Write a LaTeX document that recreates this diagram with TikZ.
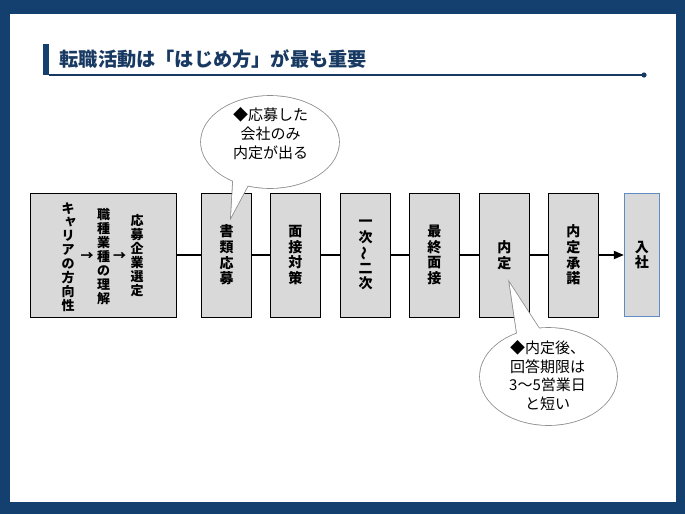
\documentclass[tikz,border=0pt]{standalone}
\usepackage{fontspec}
\usepackage{graphicx}
\usetikzlibrary{arrows.meta}
\newfontfamily\jp{Noto Sans CJK JP}
\definecolor{frameblue}{RGB}{19,64,110}
\definecolor{titleblue}{RGB}{24,58,98}
\definecolor{boxgray}{RGB}{217,217,217}
\definecolor{inblue}{RGB}{96,140,196}
\definecolor{callgray}{RGB}{140,140,140}
\tikzset{
  stepbox/.style={draw=black, line width=0.8pt, fill=boxgray, minimum width=50pt,
    minimum height=124pt, inner sep=0pt, align=center,
    font=\jp\bfseries\fontsize{14}{15.6}\selectfont},
  coltext/.style={inner sep=0pt, align=center, font=\jp\bfseries\fontsize{13}{13.9}\selectfont},
  conn/.style={line width=1.8pt, black},
  callstroke/.style={draw=callgray, line width=1.6pt},
  calltext/.style={inner sep=0pt, align=center, font=\jp\fontsize{15}{18.6}\selectfont},
}
\begin{document}
\begin{tikzpicture}[x=1pt,y=-1pt]
\useasboundingbox (0,0) rectangle (685,514);
% frame
\fill[frameblue] (0,0) rectangle (685,514);
\fill[white] (10,14) rectangle (676,502);
% title
\fill[frameblue] (43,44) rectangle (48.5,75);
\node[anchor=west, inner sep=0pt, text=titleblue, font=\jp\bfseries\fontsize{19.2}{19.2}\selectfont]
  (title) at (59.5,59) {転職活動は「はじめ方」が最も重要};
\coordinate (ul0) at (49,75);
\coordinate (ul1) at (644,75);
\draw[titleblue, line width=1.4pt] (ul0) -- (ul1);
\fill[titleblue] (ul1) circle (2.6pt);
% boxes
\node[stepbox, minimum width=146pt] (b1) at (103.7,255) {};
\node[stepbox] (b2) at (226.7,255) {書\\類\\応\\募};
\node[stepbox] (b3) at (295.3,255) {面\\接\\対\\策};
\node[stepbox] (b4) at (365.7,255) {一\\次\\\rotatebox[origin=c]{90}{～}\\二\\次};
\node[stepbox] (b5) at (434.3,255) {最\\終\\面\\接};
\node[stepbox] (b6) at (504.3,255) {\raisebox{-3pt}{内}\\\raisebox{-3pt}{定}};
\node[stepbox] (b7) at (573.3,255) {内\\定\\承\\諾};
\node[stepbox, draw=inblue, minimum width=35pt, minimum height=123pt] (b8) at (641.8,255) {\raisebox{-5pt}{入}\\\raisebox{-5pt}{社}};
% box 1 contents
\node[coltext] (k1) at (68,257) {キ\\\makebox[1em][l]{\hspace{0.2em}\raisebox{0.08em}{ャ}}\\リ\\ア\\の\\方\\向\\性};
\node[coltext] (a1) at (87,256) {→};
\node[coltext] (k2) at (103.5,256.5) {職\\種\\業\\種\\の\\理\\解};
\node[coltext] (a2) at (119.5,256) {→};
\node[coltext] (k3) at (137,255.5) {応\\募\\企\\業\\選\\定};
% connectors
\draw[conn] (b1) -- (b2);
\draw[conn] (b2) -- (b3);
\draw[conn] (b3) -- (b4);
\draw[conn] (b4) -- (b5);
\draw[conn] (b5) -- (b6);
\draw[conn] (b6) -- (b7);
\draw[conn, -{Triangle[length=10pt,width=8pt]}] (b7) -- (b8);
% callouts
\coordinate (t1) at (231,217);
\coordinate (t1a) at (234,164);
\coordinate (t1b) at (261,161);
\coordinate (e1) at (270,142);
\coordinate (t2) at (509.5,283);
\coordinate (t2a) at (521,361);
\coordinate (t2b) at (555,353);
\coordinate (e2) at (548.5,376.5);
\draw[callstroke] (t1) -- (t1a) -- (t1b) -- cycle;
\draw[callstroke] (e1) ellipse [x radius=69pt, y radius=46pt];
\draw[callstroke] (t2) -- (t2a) -- (t2b) -- cycle;
\draw[callstroke] (e2) ellipse [x radius=68.5pt, y radius=48.5pt];
\fill[white] (t1) -- (t1a) -- (t1b) -- cycle;
\fill[white] (e1) ellipse [x radius=69pt, y radius=46pt];
\fill[white] (t2) -- (t2a) -- (t2b) -- cycle;
\fill[white] (e2) ellipse [x radius=68.5pt, y radius=48.5pt];
\node[calltext] (c1) at (270.5,133.6) {◆応募した\\会社のみ\\内定が出る};
\node[calltext] (c2) at (547.5,375.7) {◆内定後、\\回答期限は\\3～5営業日\\と短い};
\end{tikzpicture}
\end{document}
